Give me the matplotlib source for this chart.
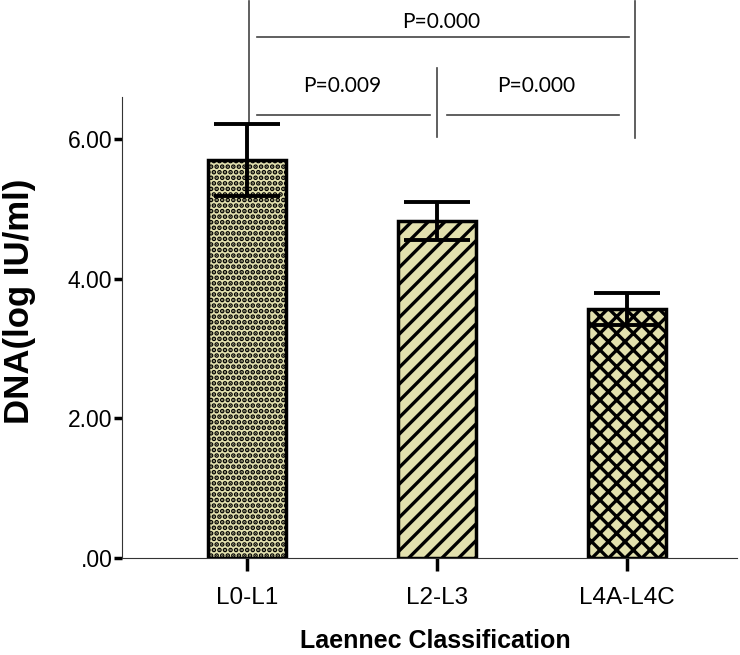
import numpy as np
import matplotlib.pyplot as plt

# data
groups = ["L0-L1", "L2-L3", "L4A-L4C"]
means = [5.70, 4.83, 3.56]
errors = [0.52, 0.27, 0.23]
hatches = ["...", "//", "xx"]

p_labels = ["P=0.000", "P=0.009", "P=0.000"]

plt.rcParams['font.family'] = ['Liberation Sans', 'DejaVu Sans']
plt.rcParams['hatch.linewidth'] = 2.4

fig = plt.figure(figsize=(7.4, 6.55), dpi=100)
ax = fig.add_axes([0.165, 0.148, 0.831, 0.852])

x = np.arange(len(groups))
bars = ax.bar(x, means, width=0.41, color="#e2e0ae", edgecolor="black",
              linewidth=2.5, zorder=2)
for b, h in zip(bars, hatches):
    b.set_hatch(h)

ax.errorbar(x, means, yerr=errors, fmt="none", ecolor="black",
            elinewidth=2.8, capsize=24, capthick=2.8, zorder=3)

# significance brackets
lc = "#444444"
ax.plot([0.01, 0.01], [6.2, 7.98], color=lc, lw=1.2)
ax.plot([2.04, 2.04], [6.02, 7.98], color=lc, lw=1.2)
ax.plot([1.0, 1.0], [6.03, 7.02], color=lc, lw=1.2)
ax.plot([0.05, 2.01], [7.46, 7.46], color=lc, lw=1.2)
ax.plot([0.05, 0.96], [6.35, 6.35], color=lc, lw=1.2)
ax.plot([1.05, 1.96], [6.35, 6.35], color=lc, lw=1.2)

tfont = dict(family="Lato", fontsize=15, ha="center", va="center")
ax.text(1.02, 7.68, p_labels[0], **tfont)
ax.text(0.50, 6.76, p_labels[1], **tfont)
ax.text(1.52, 6.76, p_labels[2], **tfont)

ax.set_xlim(-0.66, 2.58)
ax.set_ylim(0, 7.99)
ax.spines["top"].set_visible(False)
ax.spines["right"].set_visible(False)
ax.spines["left"].set_bounds(0, 6.6)
ax.spines["left"].set_color("#333333")
ax.spines["bottom"].set_color("#333333")

ax.set_yticks([0, 2, 4, 6])
ax.set_yticklabels([".00", "2.00", "4.00", "6.00"], fontsize=16.5)
ax.set_xticks(x)
ax.set_xticklabels(groups, fontsize=17.5)
ax.tick_params(axis="y", length=6, width=2.5, pad=1)
ax.tick_params(axis="x", length=9, width=2.5, pad=12)

ax.set_xlabel("Laennec Classification", fontsize=18, fontweight="bold")
ax.set_ylabel("DNA(log IU/ml)", fontsize=25, fontweight="bold")
ax.xaxis.set_label_coords(0.51, -0.128)
ax.yaxis.set_label_coords(-0.14, 0.46)

fig.savefig("out.png", dpi=100)
